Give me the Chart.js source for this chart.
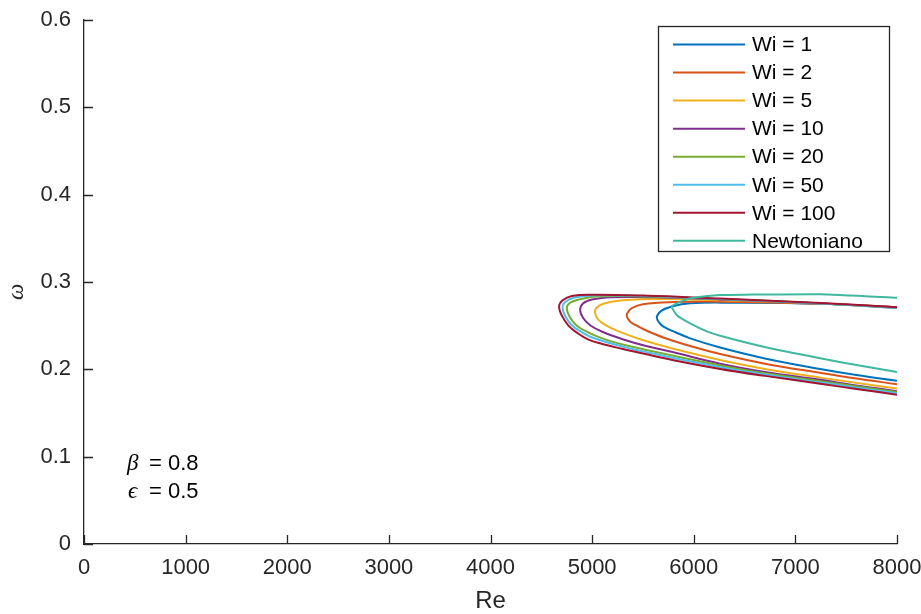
<!DOCTYPE html>
<html>
<head>
<meta charset="utf-8">
<script src="https://cdn.jsdelivr.net/npm/chart.js@4"></script>
<style>
  html, body { margin: 0; padding: 0; background: #fff; }
  #wrap { width: 921px; height: 614px; position: relative; }
</style>
</head>
<body>
<div id="wrap"><canvas id="curves" width="921" height="614"></canvas></div>
<script>
// Neutral stability curves, omega vs Re (upper branch from Re=8000 to the nose, then lower branch back out)
const labels = ['Wi = 1', 'Wi = 2', 'Wi = 5', 'Wi = 10', 'Wi = 20', 'Wi = 50', 'Wi = 100', 'Newtoniano'];
const colors = ['#0072BD', '#D95319', '#EDB120', '#7E2F8E', '#77AC30', '#4DBEEE', '#A2142F', '#3FB89F'];

const reWi1 = [8000, 7250, 6358, 5965, 5784, 5680, 5637, 5660, 5702, 5820, 5965, 6260, 6700, 7244, 7600, 8000];
const omWi1 = [0.2705, 0.275, 0.2763, 0.2756, 0.272, 0.267, 0.260, 0.2535, 0.249, 0.2425, 0.2355, 0.225, 0.2125, 0.2004, 0.1935, 0.187];

const reWi2 = [8000, 7250, 6260, 5800, 5500, 5390, 5350, 5341, 5370, 5430, 5522, 5700, 6000, 6260, 6700, 7244, 7600, 8000];
const omWi2 = [0.271, 0.275, 0.2775, 0.277, 0.2745, 0.270, 0.265, 0.261, 0.255, 0.2505, 0.245, 0.2365, 0.2255, 0.2175, 0.2065, 0.196, 0.1895, 0.183];

const reWi5 = [8000, 7250, 6260, 5700, 5300, 5110, 5040, 5030, 5060, 5128, 5250, 5473, 5800, 6260, 6700, 7244, 7600, 8000];
const omWi5 = [0.271, 0.2755, 0.279, 0.2805, 0.279, 0.275, 0.270, 0.264, 0.257, 0.251, 0.244, 0.2344, 0.2235, 0.2107, 0.2005, 0.1905, 0.1845, 0.178];

const reWi10 = [8000, 7250, 6260, 5600, 5200, 5000, 4910, 4882, 4910, 4980, 5100, 5300, 5522, 5800, 6260, 6700, 7244, 7600, 8000];
const omWi10 = [0.271, 0.2755, 0.280, 0.2825, 0.2825, 0.280, 0.2755, 0.268, 0.259, 0.2505, 0.243, 0.2345, 0.227, 0.2195, 0.2065, 0.197, 0.188, 0.1815, 0.175];

const reWi20 = [8000, 7250, 6260, 5500, 5050, 4870, 4780, 4751, 4780, 4850, 4950, 5100, 5300, 5522, 5800, 6260, 6700, 7244, 7600, 8000];
const omWi20 = [0.2705, 0.2755, 0.2805, 0.2835, 0.2835, 0.280, 0.276, 0.270, 0.260, 0.250, 0.243, 0.2355, 0.2285, 0.2225, 0.2155, 0.2045, 0.1955, 0.1865, 0.1805, 0.174];

const reWi50 = [8000, 7250, 6260, 5500, 5000, 4820, 4735, 4708, 4735, 4800, 4900, 5000, 5300, 5522, 5800, 6260, 6700, 7244, 7600, 8000];
const omWi50 = [0.2705, 0.2755, 0.2805, 0.284, 0.2845, 0.282, 0.277, 0.271, 0.261, 0.2505, 0.2425, 0.2365, 0.226, 0.220, 0.213, 0.2025, 0.194, 0.185, 0.179, 0.1725];

const reWi100 = [8000, 7250, 6260, 5500, 5000, 4800, 4710, 4675, 4700, 4767, 4850, 4964, 5100, 5292, 5522, 5800, 6260, 6700, 7244, 7600, 8000];
const omWi100 = [0.271, 0.276, 0.281, 0.2845, 0.2855, 0.284, 0.279, 0.272, 0.262, 0.250, 0.242, 0.234, 0.229, 0.2235, 0.2175, 0.2105, 0.2005, 0.1925, 0.1835, 0.1775, 0.171];

const reNewt = [8000, 7244, 6500, 6260, 6030, 5900, 5784, 5833, 5965, 6129, 6260, 6700, 7244, 7600, 8000];
const omNewt = [0.282, 0.286, 0.2855, 0.285, 0.2825, 0.279, 0.272, 0.262, 0.2527, 0.2435, 0.2385, 0.2255, 0.2126, 0.205, 0.197];

const reSeries = [reWi1, reWi2, reWi5, reWi10, reWi20, reWi50, reWi100, reNewt];
const omSeries = [omWi1, omWi2, omWi5, omWi10, omWi20, omWi50, omWi100, omNewt];

const xTicks = [0, 1000, 2000, 3000, 4000, 5000, 6000, 7000, 8000];
const yTicks = [0, 0.1, 0.2, 0.3, 0.4, 0.5, 0.6];

const axisColor = '#262626';
const fontFamily = '"Liberation Sans", Arial, Helvetica, sans-serif';
const greekFont = '"Liberation Serif", "DejaVu Serif", serif';

const datasets = reSeries.map((re, i) => ({
    label: labels[i],
    data: re.map((x, k) => ({ x: x, y: omSeries[i][k] })),
    borderColor: colors[i],
    backgroundColor: colors[i],
    borderWidth: 2,
    pointRadius: 0,
    showLine: true,
    fill: false,
    tension: i === 7 ? 0.15 : 0.4,
    order: -i
}));

// inward tick marks, legend box, annotations and axis titles
const decor = {
    id: 'decor',
    afterDraw(chart) {
        const ctx = chart.ctx;
        const xs = chart.scales.x, ys = chart.scales.y;
        const area = chart.chartArea;
        ctx.save();
        ctx.strokeStyle = axisColor;
        ctx.lineWidth = 1.3;
        ctx.beginPath();
        xTicks.forEach(v => {
            const px = Math.round(xs.getPixelForValue(v)) + 0.5;
            ctx.moveTo(px, area.bottom);
            ctx.lineTo(px, area.bottom - 9);
        });
        yTicks.forEach(v => {
            const py = Math.round(ys.getPixelForValue(v)) + 0.5;
            ctx.moveTo(area.left, py);
            ctx.lineTo(area.left + 9, py);
        });
        ctx.stroke();

        // legend
        const lx = 658.5, ly = 26.5, lw = 231, lh = 225;
        ctx.fillStyle = '#fff';
        ctx.fillRect(lx, ly, lw, lh);
        ctx.strokeStyle = axisColor;
        ctx.lineWidth = 1.3;
        ctx.strokeRect(lx, ly, lw, lh);
        ctx.font = '21px ' + fontFamily;
        ctx.textBaseline = 'middle';
        ctx.textAlign = 'left';
        chart.data.datasets.forEach((ds, i) => {
            const cy = 44.5 + i * 28.05;
            ctx.strokeStyle = ds.borderColor;
            ctx.lineWidth = 2;
            ctx.beginPath();
            ctx.moveTo(673, cy);
            ctx.lineTo(745, cy);
            ctx.stroke();
            ctx.fillStyle = '#000';
            ctx.fillText(ds.label, 752, cy + 1);
        });

        // parameter notes
        ctx.fillStyle = '#000';
        ctx.font = 'italic 23px ' + greekFont;
        ctx.fillText('\u03B2', 127, 464);
        ctx.fillText('\u03F5', 128, 492);
        ctx.font = '22px ' + fontFamily;
        ctx.fillText('= 0.8', 149, 464);
        ctx.fillText('= 0.5', 149, 492);

        // axis titles
        ctx.fillStyle = '#262626';
        ctx.textAlign = 'center';
        ctx.font = '24px ' + fontFamily;
        ctx.fillText('Re', (area.left + area.right) / 2, 601);
        ctx.translate(17, 292);
        ctx.rotate(-Math.PI / 2);
        ctx.font = 'italic 23px ' + greekFont;
        ctx.fillText('\u03C9', 0, 0);
        ctx.restore();
    }
};

new Chart(document.getElementById('curves').getContext('2d'), {
    type: 'scatter',
    data: { datasets: datasets },
    options: {
        responsive: false,
        animation: false,
        layout: { padding: { top: 20, right: 24, left: 0, bottom: 0 } },
        plugins: { legend: { display: false }, tooltip: { enabled: false } },
        scales: {
            x: {
                type: 'linear',
                min: 0, max: 8000,
                afterBuildTicks: s => { s.ticks = xTicks.map(v => ({ value: v })); },
                afterFit: s => { s.height = 70; s.paddingLeft = 0; s.paddingRight = 0; },
                grid: { display: true, drawOnChartArea: false, drawTicks: false },
                border: { color: axisColor, width: 1.3 },
                ticks: {
                    color: '#262626', padding: 11,
                    font: { family: fontFamily, size: 22 },
                    maxRotation: 0,
                    autoSkip: false,
                    callback: v => String(v)
                }
            },
            y: {
                type: 'linear',
                min: 0, max: 0.6,
                afterBuildTicks: s => { s.ticks = yTicks.map(v => ({ value: v })); },
                afterFit: s => { s.width = 84; s.paddingTop = 0; s.paddingBottom = 0; },
                grid: { display: true, drawOnChartArea: false, drawTicks: false },
                border: { color: axisColor, width: 1.3 },
                ticks: {
                    color: '#262626', padding: 13,
                    font: { family: fontFamily, size: 22 },
                    callback: v => String(Math.round(v * 10) / 10)
                }
            }
        }
    },
    plugins: [decor]
});
</script>
</body>
</html>
